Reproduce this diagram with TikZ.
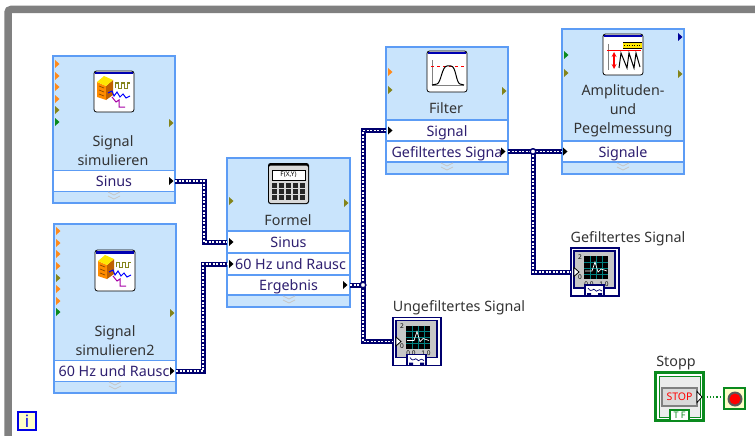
\documentclass[tikz,border=0pt]{standalone}
\usepackage{fontspec}
\setmainfont{Noto Sans}
\definecolor{framegray}{HTML}{808080}
\definecolor{nodeblue}{HTML}{C9E4FC}
\definecolor{edgeblue}{HTML}{5C9CF5}
\definecolor{wireblue}{HTML}{00006E}
\definecolor{rowtext}{HTML}{2E1F70}
\definecolor{titletext}{HTML}{333333}
\definecolor{termorange}{HTML}{FF8A1C}
\definecolor{termolive}{HTML}{84841A}
\definecolor{termgreen}{HTML}{0A8A1E}
\definecolor{stopgreen}{HTML}{0A8A1E}
\definecolor{infoblue}{HTML}{0000E6}
\definecolor{infofill}{HTML}{FFFFC8}
\newcommand{\term}[3]{\fill[#3,shift={(#1,#2)}] (-2,-4)--(2.5,0)--(-2,4)--cycle;}
\newcommand{\chev}[2]{\draw[gray!45,line width=.7,shift={(#1,#2)}] (-6,-3)--(0,0)--(6,-3) (-6,1)--(0,4)--(6,1);}
\newcommand{\wire}[1]{\draw[wireout] #1; \draw[wirein] #1;}
\tikzset{
  iconframe/.pic={
    \draw[black,fill=white,rounded corners=2.5,line width=.8] (0,0) rectangle (40,41);
    \fill[blue!70!black] (1,1) rectangle (39,3.5);
  },
  simicon/.pic={
    \pic at (0,0) {iconframe};
    \fill[orange!90!yellow] (3,11)--(12,15)--(12,29)--(3,26)--cycle;
    \fill[orange!75!black] (12,15)--(19,9)--(19,24)--(12,29)--cycle;
    \fill[yellow!90!orange] (3,11)--(10,5)--(19,9)--(12,15)--cycle;
    \draw[orange!50!black,line width=.6] (5,15)--(10,17) (5,19)--(10,21) (5,23)--(10,25);
    \draw[termolive,line width=1] (21,17)--(21,12)--(24,12)--(24,17)--(27,17)--(27,12)--(30,12)--(30,17)--(33,17)--(33,12)--(36,12);
    \draw[blue,line width=1] (14,22)--(18,20)--(20,25)--(23,21)--(26,26)--(29,23)--(32,27)--(36,25);
    \draw[violet!70!magenta,line width=1] (18,26)--(22,31)--(25,29)--(25,36)--(31,36);
  },
  filtericon/.pic={
    \pic at (0,0) {iconframe};
    \draw[gray,line width=.6] (5,9)--(5,34)--(37,34);
    \draw[red,dashed,line width=.8] (4,15)--(37,15);
    \draw[black,line width=1] (5,34)--(10,33) .. controls (14,32) and (15,15) .. (20,15) -- (24,15) .. controls (29,15) and (29,32) .. (33,33) -- (37,34);
  },
  formelicon/.pic={
    \fill[black] (0,0) [rounded corners=2.5] rectangle (41,41);
    \fill[gray!30,rounded corners=2] (1,2.5) rectangle (40,40);
    \draw[black,fill=white,line width=.7] (4,7) rectangle (37,17);
    \node[font=\fontsize{6.5}{7}\selectfont,inner sep=0] (fxy) at (20.5,12) {F(X,Y)};
    \foreach \row in {20,26,32}{
      \foreach \col in {4,11,18,25,32}{
        \fill[black!85] (\col,\row) rectangle ++(5,4.5);
      }
    }
  },
  ampicon/.pic={
    \pic at (0,0) {iconframe};
    \fill[yellow!90!orange] (20,8) rectangle (39,14);
    \draw[black,line width=.8] (20,14)--(39,14) (20,8)--(39,8);
    \draw[black,line width=.6,dash pattern=on 1pt off 1.5pt] (21,11)--(38,11);
    \draw[gray,line width=.6] (5,10)--(5,36);
    \draw[red,line width=1] (4,17)--(38,17);
    \draw[red,line width=1.2,<->,>=stealth] (11,18)--(11,35);
    \draw[black,line width=1] (16,34)--(18,19)--(24,34)--(26,19)--(31,34)--(33,19)--(37,33);
  },
  scopeface/.pic={
    \draw[wireblue,fill=gray!45,line width=1.2] (3,3) rectangle (44,40);
    \fill[black] (13,8) rectangle (37,31);
    \draw[teal,line width=.6] (13,14)--(37,14) (13,20)--(37,20) (13,26)--(37,26) (19,8)--(19,31) (25,8)--(25,31) (31,8)--(31,31);
    \draw[white,line width=.7] (14,23)--(21,23)--(24,14)--(27,24)--(30,21)--(36,23);
    \node[scopetick] (tickTwo) at (9,9) {2};
    \node[scopetick] (tickZero) at (9,29) {0};
    \node[scopetick] (tickLeft) at (18,36) {0.0};
    \node[scopetick] (tickRight) at (33,36) {1.0};
    \draw[wireblue,fill=white,line width=1.2] (14,37) rectangle (33,48);
    \draw[wireblue,line width=.7] (17,40) .. controls (21,46) and (22,39) .. (24,42) .. controls (26,46) and (27,39) .. (31,43);
    \fill[wireblue] (16,45) rectangle (20,48) (27,45) rectangle (31,48);
    \draw[black,fill=white,line width=.8] (3,19.5)--(8,24)--(3,28.5)--cycle;
  },
}
\begin{document}
\begin{tikzpicture}[x=1pt,y=-1pt,
  every node/.style={font=\fontsize{14.3}{19}\selectfont,inner sep=0,outer sep=0},
  blockbox/.style={draw=edgeblue,fill=nodeblue,line width=1.2,anchor=north west},
  rowbox/.style={draw=edgeblue,fill=white,line width=1.2,text=rowtext,minimum width=122,minimum height=21,text height=12,text depth=1},
  title/.style={text=titletext,align=center},
  wireout/.style={wireblue,line width=5},
  wirein/.style={white,line width=1.2,dash pattern=on 2pt off 1.5pt},
  junction/.style={circle,draw=wireblue,fill=white,line width=1.3,minimum size=5.5},
  scopebox/.style={draw=wireblue,fill=white,line width=1.4,minimum width=48,minimum height=48},
  scopetick/.style={font=\fontsize{6.5}{7}\selectfont\bfseries,text=black},
  stopbox/.style={draw=stopgreen,fill=white,line width=2.4,minimum width=48,minimum height=48},
  stopterm/.style={draw=stopgreen,fill=infofill,line width=1.3,minimum width=21,minimum height=21},
  label/.style={text=titletext}]
\useasboundingbox (0,0) rectangle (755,436);
\draw[framegray,line width=7.5,rounded corners=3] (755,9.5)--(8,9.5)--(8,436);

\node[blockbox,minimum width=122,minimum height=147] (simA) at (53,56) {};
\node[rowbox] (simAout) at (114,181) {Sinus};
\node[title] (simAtitle) at (113,150.5) {Signal\\simulieren};
\pic at (94,71) {simicon};
\term{57}{64}{termorange}
\term{57}{76}{termorange}
\term{57}{87}{termorange}
\term{57}{99}{termorange}
\term{57}{110}{termolive}
\term{57}{122}{termgreen}
\term{171}{123}{termolive}
\term{171}{181}{black}
\chev{114}{195}

\node[blockbox,minimum width=122,minimum height=169] (simB) at (54,224) {};
\node[rowbox] (simBout) at (115,371) {\hspace*{-2pt}60 Hz und Rausc};
\node[title] (simBtitle) at (115,340.5) {Signal\\simulieren2};
\pic at (95,250) {simicon};
\term{58}{231}{termorange}
\term{58}{243}{termorange}
\term{58}{254}{termorange}
\term{58}{266}{termorange}
\term{58}{278}{termolive}
\term{58}{289}{termorange}
\term{58}{301}{termorange}
\term{58}{312}{termgreen}
\term{172}{313}{termolive}
\term{172}{371}{black}
\chev{115}{385}

\node[blockbox,minimum width=123,minimum height=149] (formel) at (227,158) {};
\node[rowbox,minimum width=123,minimum height=22] (formelSin) at (288.5,242) {Sinus};
\node[rowbox,minimum width=123,minimum height=22] (formelNoise) at (288.5,264) {\hspace*{4pt}60 Hz und Rausc};
\node[rowbox,minimum width=123,minimum height=20] (formelOut) at (288.5,285) {Ergebnis};
\node[title] (formelTitle) at (288,220) {Formel};
\pic at (268,163) {formelicon};
\term{231}{201}{termolive}
\term{346}{203}{termolive}
\term{231}{242}{black}
\term{231}{264}{black}
\term{345}{285}{black}
\chev{289}{299}

\node[blockbox,minimum width=122,minimum height=127] (filter) at (386,47) {};
\node[rowbox] (filterIn) at (447,130.5) {Signal};
\node[rowbox] (filterOut) at (447,151.5) {Gefiltertes Signa};
\node[title] (filterTitle) at (446,108) {Filter};
\pic at (427,51) {filtericon};
\term{390}{72}{termorange}
\term{390}{90}{termolive}
\term{504}{91}{termolive}
\term{390}{130.5}{black}
\term{503}{151.5}{black}
\chev{447}{166}

\node[blockbox,minimum width=122,minimum height=145] (amp) at (562,29) {};
\node[rowbox] (ampIn) at (623,151.5) {Signale};
\node[title] (ampTitle) at (623,110.5) {Amplituden-\\und\\Pegelmessung};
\pic at (603,34) {ampicon};
\term{566}{55}{termgreen}
\term{566}{73}{termolive}
\term{680}{37}{blue!60!black}
\term{680}{74}{termolive}
\term{565}{151.5}{black}
\chev{623}{166}

\node[scopebox] (scopeA) at (417,341.5) {};
\pic at (393,317.5) {scopeface};
\node[label] (scopeAlabel) at (459,307.5) {Ungefiltertes Signal};
\node[scopebox] (scopeB) at (595,272) {};
\pic at (571,248) {scopeface};
\node[label] (scopeBlabel) at (628,238.5) {Gefiltertes Signal};

\coordinate (busA) at (204,210);
\coordinate (busB) at (203,320);
\node[junction] (joinA) at (363,285) {};
\node[junction] (joinB) at (533,151.5) {};
\wire{(simAout.east) -| (busA) |- (formelSin.west)}
\wire{(simBout.east) -| (busB) |- (formelNoise.west)}
\wire{(formelOut.east) -- (joinA.center)}
\wire{(filterIn.west) -| (joinA.center) |- (scopeA.west)}
\wire{(filterOut.east) -- (ampIn.west)}
\wire{(joinB.center) |- (scopeB.west)}
\node[junction] at (joinA) {};
\node[junction] at (joinB) {};

\node[stopbox] (stopCtl) at (679.5,396.5) {};
\draw[stopgreen,fill=gray!15,line width=1] (659,376) rectangle (700,417);
\draw[gray,fill=gray!30,line width=1.8] (662,388) rectangle (697,406);
\node[text=red,font=\fontsize{10.5}{11}\selectfont\bfseries] (stopText) at (679.5,397) {STOP};
\draw[stopgreen,fill=white,line width=1.4] (670,410) rectangle (689,421);
\node[text=stopgreen,font=\fontsize{9}{9}\selectfont\bfseries] (stopTF) at (679.5,415.5) {T F};
\draw[black,fill=white,line width=.8] (697,391.5)--(702,397)--(697,402.5)--cycle;
\node[label] (stopLabel) at (676,363.5) {Stopp};
\node[stopterm] (stopEnd) at (734.5,398.5) {};
\fill[black!65] (735,399) circle (7.5);
\fill[red] (735,399) circle (5.5);
\draw[stopgreen,line width=1.2,dotted] (stopCtl.east |- 0,397) -- (stopEnd.west |- 0,397);

\node[draw=infoblue,fill=infofill,line width=2.4,minimum size=18,text=infoblue,font=\fontsize{17}{17}\selectfont\bfseries] (loopInfo) at (27,421) {i};
\end{tikzpicture}
\end{document}
